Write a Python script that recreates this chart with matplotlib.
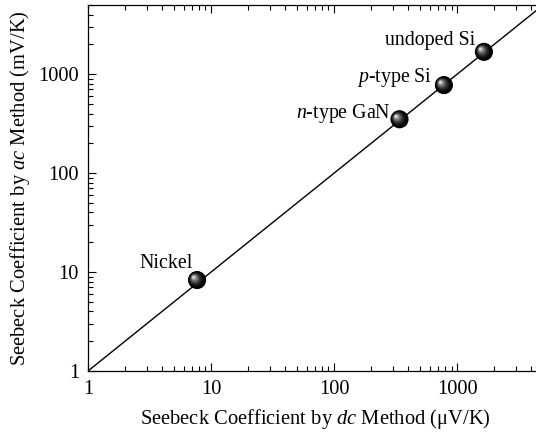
import matplotlib
matplotlib.use("Agg")
import matplotlib.pyplot as plt
import matplotlib.transforms as mtransforms
import numpy as np

# data
samples = ["Nickel", "$n$-type GaN", "$p$-type Si", "undoped Si"]
dc_values = [7.7, 340, 780, 1650]      # μV/K
ac_values = [8.3, 350, 775, 1680]      # mV/K
label_offsets = [(-4, 12), (-9, 1), (-12, 3), (-9, 7)]   # pixels
x_limits = [1, 4370]
y_limits = [1, 5000]
ref_line = [1, 10000]

plt.rcParams['font.family'] = ['Liberation Serif', 'DejaVu Serif']
plt.rcParams['mathtext.fontset'] = 'custom'
plt.rcParams['mathtext.rm'] = 'Liberation Serif'
plt.rcParams['mathtext.it'] = 'Liberation Serif:italic'

fig = plt.figure(figsize=(5.36, 4.34), dpi=100)
ax = fig.add_axes([88 / 536, 63 / 434, 448 / 536, 366 / 434])

ax.set_xscale('log')
ax.set_yscale('log')
ax.set_xlim(*x_limits)
ax.set_ylim(*y_limits)

# y = x reference line
ax.plot(ref_line, ref_line, color='black', lw=1.0, zorder=2)

# shaded "sphere" markers built from stacked circles
n_layers = 16
for i in range(n_layers):
    f = i / (n_layers - 1)
    size = 170 * (1 - 0.93 * f) ** 2
    grey = 0.95 * f ** 2.0
    shift = 3.8 * f
    tr = mtransforms.offset_copy(ax.transData, fig=fig, x=-shift, y=shift * 0.8, units='dots')
    ax.scatter(dc_values, ac_values, s=size, color=(grey, grey, grey),
               edgecolors='none', transform=tr, zorder=3 + i * 0.01)

for name, x, y, off in zip(samples, dc_values, ac_values, label_offsets):
    ax.annotate(name, (x, y), xytext=off, textcoords='offset pixels',
                ha='right', va='baseline', fontsize=14.3, zorder=5)

ax.set_xticks([1, 10, 100, 1000])
ax.set_xticklabels(['1', '10', '100', '1000'])
ax.set_yticks([1, 10, 100, 1000])
ax.set_yticklabels(['1', '10', '100', '1000'])
ax.tick_params(axis='both', which='both', direction='in', labelsize=14.7,
               top=True, right=False, width=0.8)
ax.tick_params(axis='both', which='major', length=6, pad=6.5)
ax.tick_params(axis='both', which='minor', length=3.5)

for side in ['left', 'bottom', 'top']:
    ax.spines[side].set_linewidth(0.9)
ax.spines['right'].set_visible(False)

ax.set_xlabel('Seebeck Coefficient by $dc$ Method (μV/K)', fontsize=14.8)
ax.set_ylabel('Seebeck Coefficient by $ac$ Method (mV/K)', fontsize=14.8)
ax.xaxis.set_label_coords(227 / 448, -36 / 366)
ax.yaxis.set_label_coords(-56 / 448, 0.5)

plt.savefig('out.png', dpi=100)
plt.close()
